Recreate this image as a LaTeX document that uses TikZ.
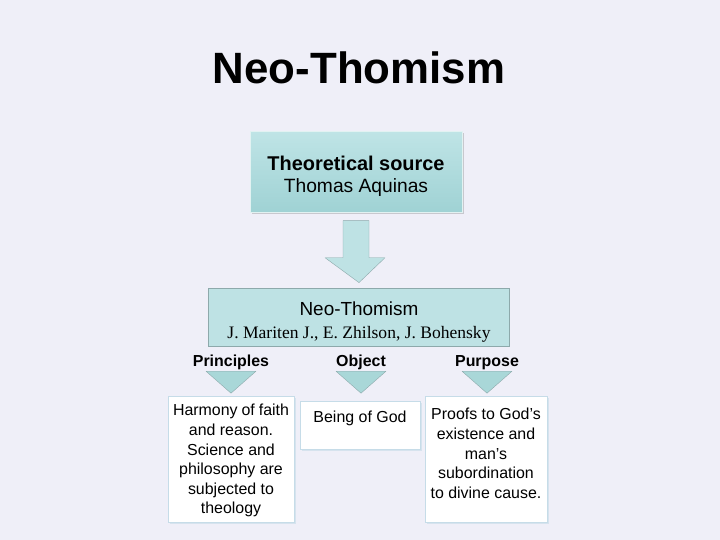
\documentclass[tikz,border=0pt]{standalone}
\usepackage{fontspec}
\setmainfont{Liberation Sans}
\newfontfamily\timesfont{Liberation Serif}
\usetikzlibrary{positioning,calc,shadows}

\definecolor{pagebg}{HTML}{EFEFF8}
\definecolor{tealtop}{HTML}{BFE4E6}
\definecolor{tealbot}{HTML}{9FD2D4}
\definecolor{tealfill}{HTML}{BEE2E4}
\definecolor{tealedge}{HTML}{8DA9AB}
\definecolor{wedgefill}{HTML}{A9D7D8}
\definecolor{cellline}{HTML}{C6DCE8}

\newcommand{\cellbox}[4]{\parbox[c][#2][t]{#1}{\vspace*{#3}\centering #4}}

\tikzset{
  srcbox/.style={draw=white!70!tealbot, top color=tealtop, bottom color=tealbot,
    minimum width=212bp, minimum height=81bp, align=center, inner sep=0,
    font=\fontsize{19.5}{23}\selectfont,
    drop shadow={shadow xshift=2bp, shadow yshift=-2bp, opacity=.35}},
  schoolbox/.style={draw=tealedge, fill=tealfill, thick, minimum width=301bp,
    minimum height=58bp, align=center, inner sep=0,
    font=\fontsize{19}{23}\selectfont},
  head/.style={font=\fontsize{16}{18}\selectfont\bfseries, inner sep=0,
    anchor=base, text height=12bp, text depth=4bp},
  cell/.style={draw=cellline, thick, fill=white, anchor=north, inner sep=5bp,
    font=\fontsize{16}{19.6}\selectfont,
    drop shadow={shadow xshift=1.5bp, shadow yshift=-1.5bp, fill=cellline, opacity=.6}},
  wedge/.style={draw=tealedge, fill=wedgefill, line join=round}
}

\begin{document}
\begin{tikzpicture}[x=1bp,y=-1bp]
  \fill[pagebg] (0,0) rectangle (720,540);
  \useasboundingbox (0,0) rectangle (720,540);

  \node[font=\fontsize{44}{48}\selectfont\bfseries] (title) at (359,68) {Neo-Thomism};

  \node[srcbox] (src) at (356,172)
    {\rule{0pt}{23bp}{\fontsize{20}{23}\selectfont\bfseries Theoretical source}\\
     {\fontsize{19.3}{23}\selectfont Thomas Aquinas}};

  \node[schoolbox] (school) at (359,317)
    {\rule{0pt}{23bp}Neo-Thomism\\
     {\timesfont\fontsize{17.6}{23}\selectfont J. Mariten J., E. Zhilson, J. Bohensky}};

  % block arrow from source to school
  \draw[wedge, fill=tealfill] ($(src.south)+(-13,8)$) -- ($(src.south)+(13,8)$)
    -- ($(src.south)+(13,45)$) -- ($(src.south)+(29,45)$) -- ($(school.north)+(0,-5)$)
    -- ($(src.south)+(-31,45)$) -- ($(src.south)+(-13,45)$) -- cycle;

  \node[head] (prin) at (231,366) {Principles};
  \node[head] (obj)  at (361,366) {Object};
  \node[head] (purp) at (487,366) {Purpose};

  \node[cell] (prinbox) at (231,396)
    {\cellbox{116bp}{116bp}{3bp}{Harmony of faith\\ and reason.\\ Science and\\ philosophy are\\ subjected to\\ theology}};
  \node[cell] (objbox) at (360,401)
    {\cellbox{110bp}{38bp}{5bp}{Being of God}};
  \node[cell] (purpbox) at (486,396)
    {\cellbox{112bp}{116bp}{7bp}{Proofs to God's\\ existence and\\ man's\\ subordination\\ to divine cause.}};

  % wedges under the headings
  \foreach \h/\b in {prin/prinbox, obj/objbox, purp/purpbox} {
    \draw[wedge] ($(\h.south)+(-25,1)$) -- ($(\h.south)+(25,1)$)
      -- ($(\h.south)+(0,23)$) -- cycle;
  }
\end{tikzpicture}
\end{document}
